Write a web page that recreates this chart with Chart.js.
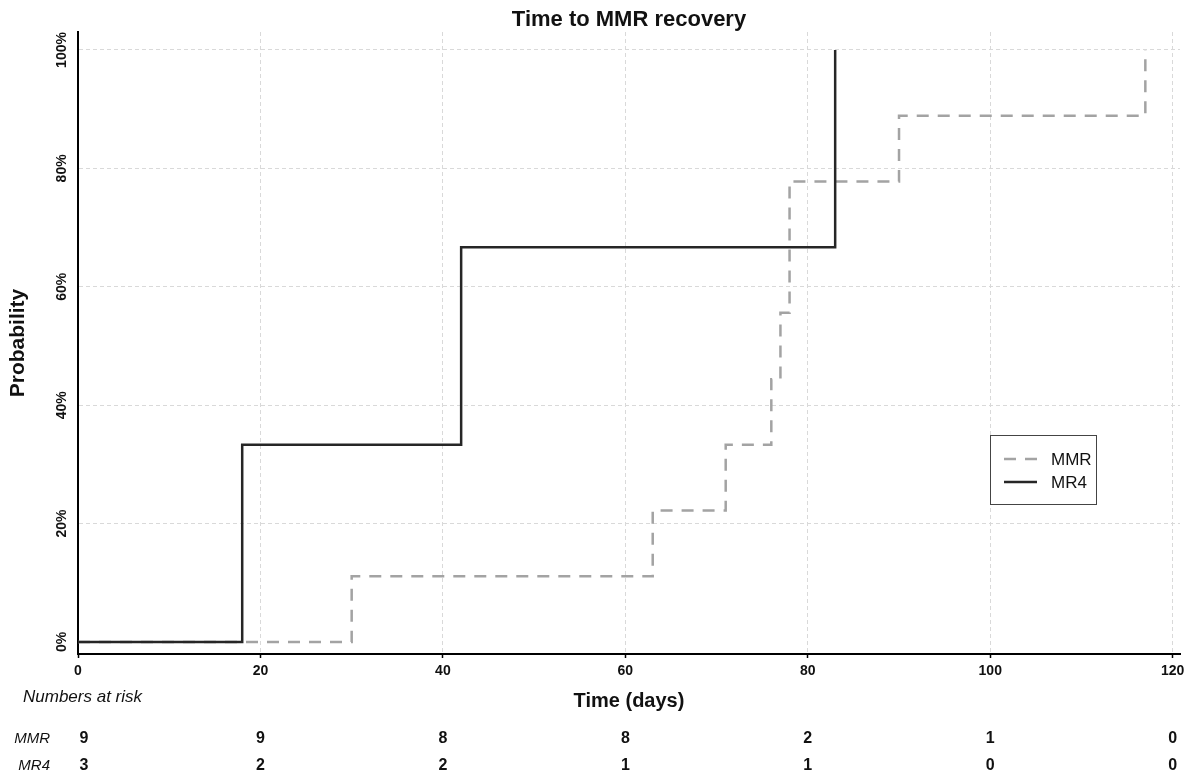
<!DOCTYPE html>
<html>
<head>
<meta charset="utf-8">
<title>Time to MMR recovery</title>
<script src="https://cdn.jsdelivr.net/npm/chart.js@4.4.1/dist/chart.umd.min.js"></script>
<style>
  html, body { margin: 0; padding: 0; background: #fff; }
  #wrap { width: 1195px; height: 778px; }
</style>
</head>
<body>
<div id="wrap"><canvas id="kmChart" width="1195" height="778"></canvas></div>
<script>
// Kaplan-Meier style cumulative probability (event time, value in %)
const mmrTimes = [0, 30, 63, 71, 76, 77, 78, 90, 117];
const mmrProb = [0, 11.1, 22.2, 33.3, 44.4, 55.6, 77.8, 88.9, 100];
const mr4Times = [0, 18, 42, 83];
const mr4Prob = [0, 33.3, 66.7, 100];

// numbers at risk table
const riskTimes = [0, 20, 40, 60, 80, 100, 120];
const riskGroups = ['MMR', 'MR4'];
const mmrAtRisk = [9, 9, 8, 8, 2, 1, 0];
const mr4AtRisk = [3, 2, 2, 1, 1, 0, 0];

const FONT = '"Liberation Sans", Arial, Helvetica, sans-serif';

const toPoints = (xs, ys) => xs.map((x, i) => ({ x: x, y: ys[i] }));

// draws the rotated y tick labels, the boxed legend and the risk table
const kmExtras = {
    id: 'kmExtras',
    afterDraw(chart) {
        const ctx = chart.ctx;
        const xScale = chart.scales.x;
        const yScale = chart.scales.y;
        const area = chart.chartArea;

        ctx.save();
        ctx.fillStyle = '#111';

        // y tick labels, reading upwards
        ctx.font = 'bold 14px ' + FONT;
        ctx.textAlign = 'center';
        ctx.textBaseline = 'middle';
        yScale.ticks.forEach(t => {
            const y = yScale.getPixelForValue(t.value);
            ctx.save();
            ctx.translate(62, y);
            ctx.rotate(-Math.PI / 2);
            ctx.fillText(t.value + '%', 0, 0);
            ctx.restore();
        });

        // legend box
        const lx = 990, ly = 435, lw = 106, lh = 69;
        ctx.strokeStyle = '#444';
        ctx.lineWidth = 1;
        ctx.setLineDash([]);
        ctx.strokeRect(lx + 0.5, ly + 0.5, lw, lh);
        ctx.font = '17px ' + FONT;
        ctx.textAlign = 'left';
        chart.data.datasets.forEach((ds, i) => {
            const y = 459 + i * 23;
            ctx.save();
            ctx.strokeStyle = ds.borderColor;
            ctx.lineWidth = ds.borderWidth;
            ctx.setLineDash(ds.borderDash || []);
            ctx.beginPath();
            ctx.moveTo(1004, y);
            ctx.lineTo(1037, y);
            ctx.stroke();
            ctx.restore();
            ctx.fillText(ds.label, 1051, y + 1);
        });

        // numbers at risk
        ctx.font = 'italic 17px ' + FONT;
        ctx.textAlign = 'left';
        ctx.fillText('Numbers at risk', 23, 697);

        const rows = [mmrAtRisk, mr4AtRisk];
        const rowY = [739, 766];
        rows.forEach((vals, r) => {
            ctx.font = 'italic 15px ' + FONT;
            ctx.textAlign = 'right';
            ctx.fillText(riskGroups[r], 50, rowY[r]);
            ctx.font = 'bold 16px ' + FONT;
            ctx.textAlign = 'center';
            vals.forEach((v, i) => {
                const x = Math.max(xScale.getPixelForValue(riskTimes[i]), area.left + 6);
                ctx.fillText(String(v), x, rowY[r]);
            });
        });
        ctx.restore();
    }
};

const ctx = document.getElementById('kmChart');

new Chart(ctx, {
    type: 'line',
    data: {
        datasets: [
            {
                label: 'MMR',
                data: toPoints(mmrTimes, mmrProb),
                borderColor: '#a3a3a3',
                borderWidth: 2.5,
                borderDash: [12, 9],
                stepped: 'before',
                pointRadius: 0,
                fill: false,
                order: 2
            },
            {
                label: 'MR4',
                data: toPoints(mr4Times, mr4Prob),
                borderColor: '#262626',
                borderWidth: 2.5,
                stepped: 'before',
                pointRadius: 0,
                fill: false,
                order: 1
            }
        ]
    },
    options: {
        responsive: false,
        devicePixelRatio: 1,
        animation: false,
        layout: {
            padding: { left: 0, right: 15, top: 0, bottom: 0 }
        },
        plugins: {
            legend: { display: false },
            tooltip: { enabled: false },
            title: {
                display: true,
                text: 'Time to MMR recovery',
                fullSize: false,
                color: '#111',
                font: { family: FONT, size: 22, weight: 'bold', lineHeight: 1 },
                padding: { top: 9, bottom: 1 }
            }
        },
        scales: {
            x: {
                type: 'linear',
                min: 0,
                max: 120.8,
                afterFit: scale => { scale.height = 124; },
                ticks: {
                    stepSize: 20,
                    includeBounds: false,
                    color: '#111',
                    padding: 5,
                    maxRotation: 0,
                    font: { family: FONT, size: 14, weight: 'bold' }
                },
                grid: {
                    color: '#d9d9d9',
                    lineWidth: 1,
                    drawTicks: true,
                    tickLength: 4,
                    tickColor: '#000',
                    tickWidth: 1.5,
                    tickBorderDash: []
                },
                border: { display: true, color: '#000', width: 2, dash: [4, 3] },
                title: {
                    display: true,
                    text: 'Time (days)',
                    color: '#111',
                    font: { family: FONT, size: 20, weight: 'bold' },
                    padding: { top: 0, bottom: 65 }
                }
            },
            y: {
                type: 'linear',
                min: -2.03,
                max: 103.04,
                afterFit: scale => { scale.width = 78; },
                ticks: {
                    stepSize: 20,
                    includeBounds: false,
                    display: false
                },
                grid: {
                    // no grid line at 0%
                    color: c => (c.tick && c.tick.value === 0 ? 'rgba(0,0,0,0)' : '#d9d9d9'),
                    lineWidth: 1,
                    drawTicks: false
                },
                border: { display: true, color: '#000', width: 2, dash: [4, 3] },
                title: {
                    display: true,
                    text: 'Probability',
                    color: '#111',
                    font: { family: FONT, size: 21, weight: 'bold' },
                    padding: { top: 6, bottom: 0 }
                }
            }
        }
    },
    plugins: [kmExtras]
});
</script>
</body>
</html>
